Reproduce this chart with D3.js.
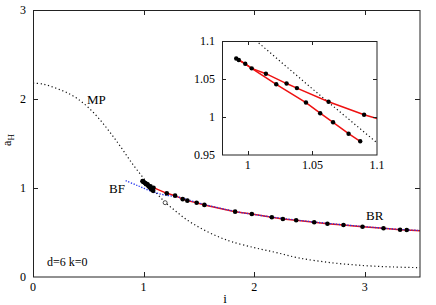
<!DOCTYPE html>
<html>
<head>
<meta charset="utf-8">
<script src="https://cdn.jsdelivr.net/npm/d3@7"></script>
<style>
  body { margin: 0; background: #fff; }
  text { font-family: "Liberation Serif", "Times New Roman", serif; fill: #000; }
</style>
</head>
<body>
<svg width="436" height="305"></svg>
<script>
// main panel: MP curve (black dotted)
var mpCurve = [[0,2.18],[0.1,2.165],[0.2,2.125],[0.3,2.075],[0.4,2.005],[0.5,1.905],[0.6,1.775],
               [0.7,1.62],[0.8,1.45],[0.9,1.27],[1.0,1.11],[1.1,0.965],[1.2,0.835],[1.3,0.73],
               [1.4,0.635],[1.5,0.56],[1.6,0.495],[1.7,0.44],[1.8,0.395],[2.0,0.33],[2.2,0.275],
               [2.4,0.215],[2.7,0.16],[3.0,0.128],[3.25,0.113],[3.5,0.105]]
var mpOpen = [[1.195,0.835]]

// BR branch (red), upper and lower part near the cusp
var brUpper = [[0.991,1.077],[0.993,1.075],[0.998,1.070],[1.003,1.064],[1.014,1.057],[1.030,1.044],
               [1.038,1.038],[1.0625,1.020],[1.090,1.003],[1.1,0.998],[1.21,0.94],[1.285,0.914],
               [1.354,0.875],[1.396,0.858],[1.48,0.835],[1.55,0.81],[1.828,0.734],[1.979,0.708],
               [2.16,0.671],[2.26,0.652],[2.38,0.637],[2.543,0.615],[2.663,0.599],[2.808,0.584],
               [2.98,0.565],[3.17,0.547],[3.32,0.531],[3.38,0.528],[3.5,0.52]]
var brLower = [[0.991,1.077],[0.993,1.075],[0.998,1.070],[1.003,1.064],[1.022,1.043],[1.045,1.019],
               [1.056,1.005],[1.066,0.993],[1.078,0.978],[1.087,0.968]]
// dots drawn on the branch
var brDots = [[0.991,1.077],[0.993,1.075],[0.998,1.070],[1.003,1.064],[1.014,1.057],[1.022,1.043],
              [1.030,1.044],[1.038,1.038],[1.045,1.019],[1.056,1.005],[1.0625,1.020],[1.066,0.993],
              [1.078,0.978],[1.087,0.968],[1.090,1.003],[1.21,0.94],[1.285,0.914],[1.354,0.875],
              [1.396,0.858],[1.48,0.835],[1.55,0.81],[1.828,0.734],[1.979,0.708],[2.16,0.671],
              [2.26,0.652],[2.38,0.637],[2.543,0.615],[2.663,0.599],[2.808,0.584],[2.98,0.565],
              [3.17,0.547],[3.32,0.531],[3.38,0.528]]

// BF curve (blue dotted)
var bfCurve = [[0.838,1.082],[0.95,1.025],[1.074,0.962],[1.18,0.924],[1.33,0.895],[1.48,0.838],
               [1.828,0.737],[2.16,0.674],[2.543,0.618],[2.98,0.568],[3.32,0.534],[3.5,0.523]]

// inset: MP piece
var mpInset = [[0.995,1.117],[1.05,1.037],[1.1,0.966]]

var xTicks = [0, 1, 2, 3]
var yTicks = [0, 1, 2, 3]
var ixTicks = [1, 1.05, 1.1]
var iyTicks = [0.95, 1, 1.05, 1.1]

var svg = d3.select("svg")

var x = d3.scaleLinear().domain([0, 3.5]).range([33, 420])
var y = d3.scaleLinear().domain([0, 3]).range([277, 10])

var main = svg.append("g")

main.append("defs").append("clipPath").attr("id", "clipMain")
    .append("rect").attr("x", 33).attr("y", 10).attr("width", 387).attr("height", 267)
main.append("defs").append("clipPath").attr("id", "clipInset")
    .append("rect").attr("x", 222).attr("y", 41).attr("width", 155).attr("height", 114)

var line = d3.line().x(d => x(d[0])).y(d => y(d[1])).curve(d3.curveCatmullRom)
var lineLin = d3.line().x(d => x(d[0])).y(d => y(d[1]))

var plot = main.append("g").attr("clip-path", "url(#clipMain)")

plot.append("path")
    .attr("d", line(mpCurve))
    .attr("fill", "none")
    .attr("stroke", "#111")
    .attr("stroke-width", 1.2)
    .attr("stroke-dasharray", "1.2,2.6")

plot.selectAll(".open").data(mpOpen).enter().append("circle")
    .attr("cx", d => x(d[0])).attr("cy", d => y(d[1])).attr("r", 2)
    .attr("fill", "#fff").attr("stroke", "#222").attr("stroke-width", 0.8)

plot.append("path")
    .attr("d", lineLin(brUpper))
    .attr("fill", "none").attr("stroke", "#ee1111").attr("stroke-width", 1.5)
plot.append("path")
    .attr("d", lineLin(brLower))
    .attr("fill", "none").attr("stroke", "#ee1111").attr("stroke-width", 1.5)

plot.append("path")
    .attr("d", line(bfCurve))
    .attr("fill", "none")
    .attr("stroke", "#2233ee")
    .attr("stroke-width", 1.3)
    .attr("stroke-dasharray", "1.3,1.5")

plot.selectAll(".dot").data(brDots).enter().append("circle")
    .attr("cx", d => x(d[0])).attr("cy", d => y(d[1])).attr("r", 2.3)
    .attr("fill", "#000")

// frame + ticks
main.append("rect").attr("x", 33.5).attr("y", 10.5).attr("width", 386.5).attr("height", 266.5)
    .attr("fill", "none").attr("stroke", "#222").attr("stroke-width", 1)

xTicks.filter(d => d > 0).forEach(function(t){
    main.append("line").attr("x1", Math.round(x(t)) + 0.5).attr("x2", Math.round(x(t)) + 0.5)
        .attr("y1", 277).attr("y2", 272).attr("stroke", "#222")
    main.append("line").attr("x1", Math.round(x(t)) + 0.5).attr("x2", Math.round(x(t)) + 0.5)
        .attr("y1", 10).attr("y2", 15).attr("stroke", "#222")
})
yTicks.filter(d => d > 0 && d < 3).forEach(function(t){
    main.append("line").attr("y1", Math.round(y(t)) + 0.5).attr("y2", Math.round(y(t)) + 0.5)
        .attr("x1", 33).attr("x2", 38).attr("stroke", "#222")
    main.append("line").attr("y1", Math.round(y(t)) + 0.5).attr("y2", Math.round(y(t)) + 0.5)
        .attr("x1", 420).attr("x2", 415).attr("stroke", "#222")
})

main.selectAll(".xl").data(xTicks).enter().append("text")
    .attr("x", d => x(d)).attr("y", 291)
    .attr("text-anchor", "middle").attr("font-size", 12).text(d => d)
main.selectAll(".yl").data(yTicks).enter().append("text")
    .attr("x", 26).attr("y", d => y(d) + 4)
    .attr("text-anchor", "end").attr("font-size", 12).text(d => d)

main.append("text").attr("x", 225).attr("y", 303).attr("text-anchor", "middle")
    .attr("font-size", 13).text("i")
var yl = main.append("text").attr("transform", "translate(11,140) rotate(-90)")
    .attr("text-anchor", "middle").attr("font-size", 12)
yl.append("tspan").text("a")
yl.append("tspan").attr("dy", 3).attr("font-size", 9).text("H")

main.append("text").attr("x", 87).attr("y", 104).attr("font-size", 13).text("MP")
main.append("text").attr("x", 109).attr("y", 193).attr("font-size", 13).text("BF")
main.append("text").attr("x", 366).attr("y", 220).attr("font-size", 13).text("BR")
main.append("text").attr("x", 47).attr("y", 266).attr("font-size", 12).text("d=6 k=0")

// ---------- inset ----------
var ix = d3.scaleLinear().domain([0.98, 1.1]).range([222, 377])
var iy = d3.scaleLinear().domain([0.95, 1.1]).range([155, 41])
var iline = d3.line().x(d => ix(d[0])).y(d => iy(d[1]))

var inset = svg.append("g")
inset.append("rect").attr("x", 222).attr("y", 41).attr("width", 155).attr("height", 114).attr("fill", "#fff")

var ip = inset.append("g").attr("clip-path", "url(#clipInset)")
ip.append("path").attr("d", iline(mpInset))
    .attr("fill", "none").attr("stroke", "#111").attr("stroke-width", 1.2)
    .attr("stroke-dasharray", "1.2,2.6")
ip.append("path").attr("d", iline(brUpper))
    .attr("fill", "none").attr("stroke", "#ee1111").attr("stroke-width", 1.5)
ip.append("path").attr("d", iline(brLower))
    .attr("fill", "none").attr("stroke", "#ee1111").attr("stroke-width", 1.5)
ip.selectAll(".idot").data(brDots.filter(d => d[0] < 1.1)).enter().append("circle")
    .attr("cx", d => ix(d[0])).attr("cy", d => iy(d[1])).attr("r", 2.2)
    .attr("fill", "#000")

inset.append("rect").attr("x", 222.5).attr("y", 41.5).attr("width", 154.5).attr("height", 113.5)
    .attr("fill", "none").attr("stroke", "#222").attr("stroke-width", 1)

ixTicks.filter(d => d < 1.1).forEach(function(t){
    inset.append("line").attr("x1", Math.round(ix(t)) + 0.5).attr("x2", Math.round(ix(t)) + 0.5)
        .attr("y1", 155).attr("y2", 151).attr("stroke", "#222")
    inset.append("line").attr("x1", Math.round(ix(t)) + 0.5).attr("x2", Math.round(ix(t)) + 0.5)
        .attr("y1", 41).attr("y2", 45).attr("stroke", "#222")
})
iyTicks.filter(d => d > 0.95 && d < 1.1).forEach(function(t){
    inset.append("line").attr("y1", Math.round(iy(t)) + 0.5).attr("y2", Math.round(iy(t)) + 0.5)
        .attr("x1", 222).attr("x2", 226).attr("stroke", "#222")
    inset.append("line").attr("y1", Math.round(iy(t)) + 0.5).attr("y2", Math.round(iy(t)) + 0.5)
        .attr("x1", 377).attr("x2", 373).attr("stroke", "#222")
})

inset.selectAll(".ixl").data(ixTicks).enter().append("text")
    .attr("x", d => ix(d)).attr("y", 169)
    .attr("text-anchor", "middle").attr("font-size", 12).text(d => d)
inset.selectAll(".iyl").data(iyTicks).enter().append("text")
    .attr("x", 215).attr("y", d => iy(d) + 4)
    .attr("text-anchor", "end").attr("font-size", 12).text(d => d)
</script>
</body>
</html>
